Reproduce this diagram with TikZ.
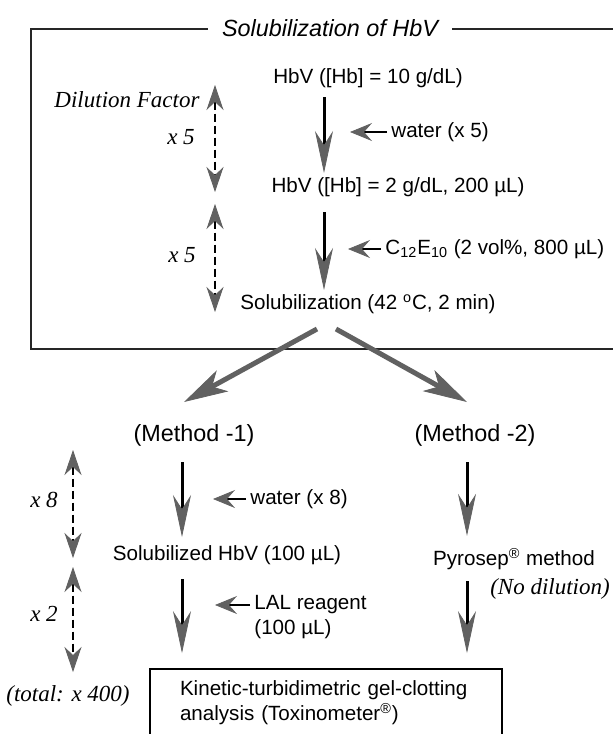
\documentclass[tikz,border=0pt]{standalone}
\usepackage{fontspec}
\setmainfont{Liberation Serif}
\setsansfont{Liberation Sans}
\usepackage{tikz}
\usetikzlibrary{arrows.meta}

\definecolor{headgray}{gray}{0.38}

\tikzset{
  lbl/.style={font=\sffamily\fontsize{10.3}{12.5}\selectfont, inner sep=2pt},
  method/.style={font=\sffamily\fontsize{11.7}{14}\selectfont, inner sep=2pt},
  note/.style={font=\rmfamily\itshape\fontsize{11.5}{13.8}\selectfont, inner sep=2pt},
  heading/.style={font=\sffamily\itshape\fontsize{11.7}{14}\selectfont, inner xsep=7pt},
  frameline/.style={line width=1.1pt, black!85},
  flow/.style={line width=1.5pt, shorten <=5pt, shorten >=1pt,
    -{Stealth[length=21pt, width=9pt, inset=7pt, line width=.4pt, fill=headgray, color=headgray]}},
  feed/.style={line width=1pt,
    -{Stealth[length=11pt, width=9pt, inset=4pt, line width=.4pt, fill=headgray, color=headgray]}},
  factor/.style={line width=1pt, dash pattern=on 4pt off 2pt,
    {Stealth[length=12.5pt, width=8.5pt, inset=4pt, line width=.4pt, fill=headgray, color=headgray]}-{Stealth[length=12.5pt, width=8.5pt, inset=4pt, line width=.4pt, fill=headgray, color=headgray]}},
  branch/.style={line width=2.5pt, headgray,
    -{Stealth[length=22pt, width=12pt, inset=6pt, line width=.4pt, fill=headgray]}}
}

\begin{document}
\begin{tikzpicture}[x=.5pt, y=-.5pt]
  \useasboundingbox (0,0) rectangle (613,734);
  % columns of the flow
  \coordinate (colA) at (324,0);
  \coordinate (colB) at (182,0);
  \coordinate (colC) at (467,0);
  % instantiate nodes
  \node[heading] (title) at (330,28) {Solubilization of HbV};
  \node[lbl] (hbv10) at (368,78) {HbV ([Hb] = 10 g/dL)};
  \node[lbl] (hbv2) at (398,187) {HbV ([Hb] = 2 g/dL, 200 µL)};
  \node[lbl] (solub) at (368,304) {Solubilization (42 \textsuperscript{o}C, 2 min)};
  \node[lbl, anchor=west] (water5) at (387,132) {water (x 5)};
  \node[lbl, anchor=west] (c12) at (381,249) {C\textsubscript{12}E\textsubscript{10} (2 vol\%, 800 µL)};
  \node[note] (dilf) at (127,100) {Dilution Factor};
  \node[note] (x5a) at (181,137) {x 5};
  \node[note] (x5b) at (182,255) {x 5};
  \node[method] (meth1) at (194,435) {(Method -1)};
  \node[method] (meth2) at (475,435) {(Method -2)};
  \node[lbl, anchor=west] (water8) at (246,499) {water (x 8)};
  \node[lbl] (solhbv) at (227,555) {Solubilized HbV (100 µL)};
  \node[lbl] (pyro) at (514,559) {Pyrosep\textsuperscript{®} method};
  \node[note] (nodil) at (550,589) {(No dilution)};
  \node[lbl, anchor=west] (lal) at (250,605) {LAL reagent};
  \node[lbl, anchor=west] (lalvol) at (250,629) {(100 µL)};
  \node[note] (x8) at (44,500) {x 8};
  \node[note] (x2) at (44,614) {x 2};
  \node[note] (total) at (68,696) {(total: x 400)};
  \node[lbl, draw, line width=.8pt, align=left, text width=146pt,
        inner xsep=15pt, inner ysep=6pt] (kinetic) at (326,703)
        {Kinetic-turbidimetric gel-clotting\\analysis (Toxinometer\textsuperscript{®})};
  % frame round the solubilization step
  \coordinate (frameTL) at (31,29);
  \coordinate (frameBL) at (31,349);
  \coordinate (frameBR) at (625,349);
  \coordinate (frameTR) at (625,29);
  \draw[frameline] (title.west |- frameTL) -- (frameTL) -- (frameBL) -- (frameBR);
  \draw[frameline] (title.east |- frameTR) -- (frameTR);
  % main steps
  \draw[flow, shorten <=2.5pt, shorten >=0pt] (hbv10.south -| colA) -- (hbv2.north -| colA);
  \draw[flow, shorten <=5.5pt, shorten >=0pt] (hbv2.south -| colA) -- (solub.north -| colA);
  \draw[flow, shorten <=6pt, shorten >=2pt] (meth1.south -| colB) -- (solhbv.north -| colB);
  \draw[flow, shorten >=7.5pt] (solhbv.south -| colB) -- (kinetic.north -| colB);
  \draw[flow, shorten <=6pt, shorten >=4pt] (meth2.south -| colC) -- (pyro.north -| colC);
  \draw[flow, shorten <=3.5pt, shorten >=7.5pt] (pyro.south -| colC) -- (kinetic.north -| colC);
  % additions
  \draw[feed, shorten >=13pt] (water5.west) -- (water5.west -| colA);
  \draw[feed, shorten >=12pt] (c12.west) -- (c12.west -| colA);
  \draw[feed, shorten >=15.5pt] (water8.west) -- (water8.west -| colB);
  \draw[feed, shorten >=16.5pt] (lal.west) -- (lal.west -| colB);
  % the two methods
  \coordinate (forkL) at (317,329);
  \coordinate (forkR) at (336,329);
  \coordinate (tipL) at (184,402);
  \coordinate (tipR) at (467,402);
  \draw[branch] (forkL) -- (tipL);
  \draw[branch] (forkR) -- (tipR);
  % dilution factors
  \coordinate (f1a) at (215,85);
  \coordinate (f1b) at (215,192);
  \coordinate (f2a) at (215,204);
  \coordinate (f2b) at (215,312);
  \coordinate (f3a) at (73,450);
  \coordinate (f3b) at (73,558);
  \coordinate (f4a) at (73,567);
  \coordinate (f4b) at (73,672);
  \draw[factor] (f1a) -- (f1b);
  \draw[factor] (f2a) -- (f2b);
  \draw[factor] (f3a) -- (f3b);
  \draw[factor] (f4a) -- (f4b);
\end{tikzpicture}
\end{document}
